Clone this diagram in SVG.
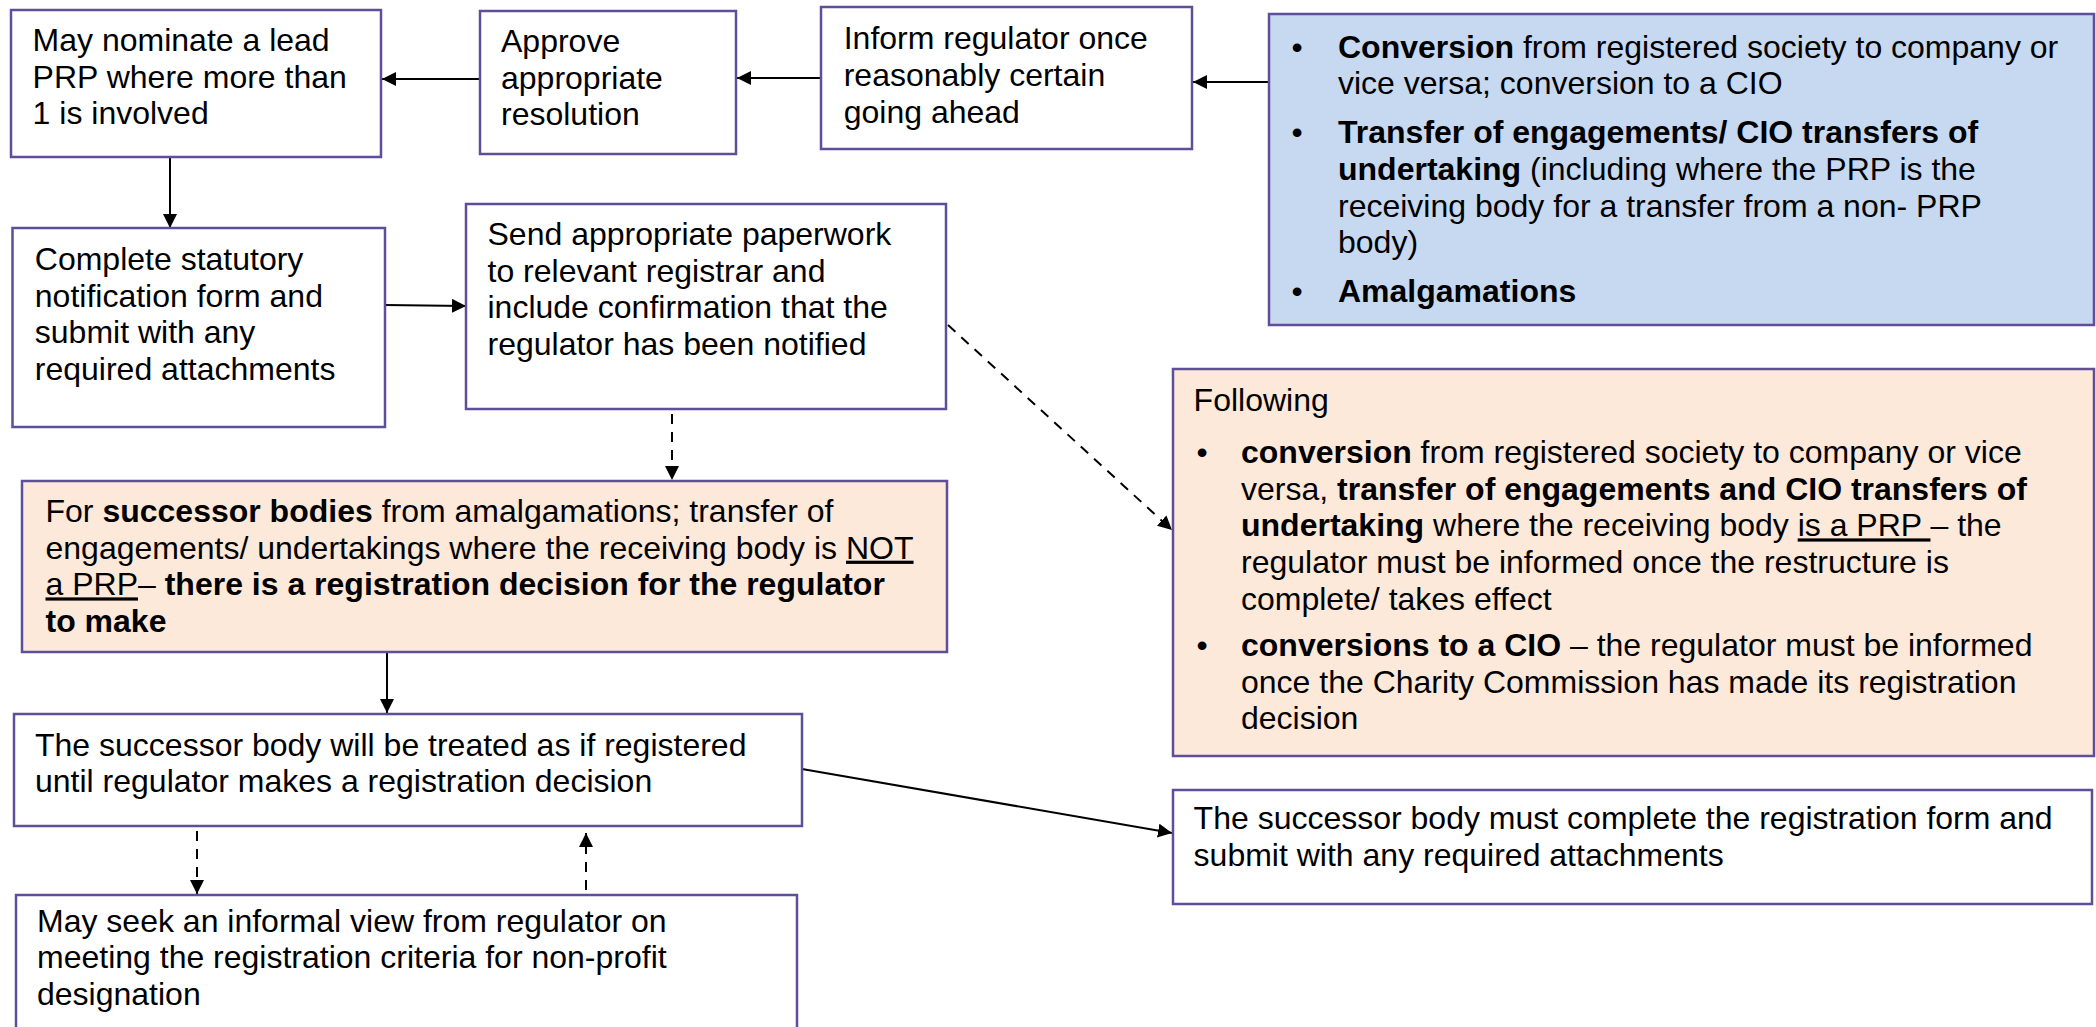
<svg xmlns="http://www.w3.org/2000/svg" width="2096" height="1027" viewBox="0 0 2096 1027">
<defs>
<style>
.t{font-family:"Liberation Sans",Arial,sans-serif;font-size:32px;fill:#000}
.b{font-weight:bold}
.u{text-decoration:underline}
.box{fill:#fff;stroke:#5F4E99;stroke-width:2.5}
.blue{fill:#C6D9F1}
.orange{fill:#FDE9D9}
.c{stroke:#000;stroke-width:2;fill:none;marker-end:url(#ah)}
.d{stroke-dasharray:10 8}
.bul{text-anchor:middle}
</style>
<marker id="ah" markerUnits="userSpaceOnUse" markerWidth="15" markerHeight="15" refX="14" refY="7" orient="auto">
<path d="M0,0 L14,7 L0,14 z" fill="#000"/>
</marker>
</defs>
<rect width="2096" height="1027" fill="#fff"/>

<g id="connectors">
<path class="c" d="M480,79 L382,79"/>
<path class="c" d="M821,78 L737,78"/>
<path class="c" d="M1269,82 L1193,82"/>
<path class="c" d="M170,157 L170,228"/>
<path class="c" d="M385,305 L466,306"/>
<path class="c d" d="M672,414 L672,480"/>
<path class="c d" d="M948,325 L1172,530"/>
<path class="c" d="M387,652 L387,713"/>
<path class="c" d="M802,769 L1172,833"/>
<path class="c d" d="M197,831 L197,894"/>
<path class="c d" d="M586,890 L586,833"/>
</g>

<g id="node-nominate">
<rect class="box" x="11" y="10" width="370" height="147"/>
<text class="t" x="32.6" y="51">May nominate a lead</text>
<text class="t" x="32.6" y="87.7">PRP where more than</text>
<text class="t" x="32.6" y="124.4">1 is involved</text>
</g>

<g id="node-approve">
<rect class="box" x="480" y="11" width="256" height="143"/>
<text class="t" x="501" y="52">Approve</text>
<text class="t" x="501" y="88.7">appropriate</text>
<text class="t" x="501" y="125.4">resolution</text>
</g>

<g id="node-inform">
<rect class="box" x="821" y="7" width="371" height="142"/>
<text class="t" x="843.7" y="49.3">Inform regulator once</text>
<text class="t" x="843.7" y="86">reasonably certain</text>
<text class="t" x="843.7" y="122.7">going ahead</text>
</g>

<g id="node-types">
<rect class="box blue" x="1269" y="14" width="825" height="311"/>
<text class="t bul" x="1297" y="57.7">•</text>
<text class="t" x="1338" y="57.7"><tspan class="b">Conversion</tspan> from registered society to company or</text>
<text class="t" x="1338" y="94.4">vice versa; conversion to a CIO</text>
<text class="t bul" x="1297" y="143.3">•</text>
<text class="t b" x="1338" y="143.3">Transfer of engagements/ CIO transfers of</text>
<text class="t" x="1338" y="180"><tspan class="b">undertaking</tspan> (including where the PRP is the</text>
<text class="t" x="1338" y="216.7">receiving body for a transfer from a non- PRP</text>
<text class="t" x="1338" y="253.4">body)</text>
<text class="t bul" x="1297" y="301.7">•</text>
<text class="t b" x="1338" y="301.7">Amalgamations</text>
</g>

<g id="node-notification">
<rect class="box" x="12.5" y="228" width="372.5" height="199"/>
<text class="t" x="34.8" y="270">Complete statutory</text>
<text class="t" x="34.8" y="306.7">notification form and</text>
<text class="t" x="34.8" y="343.4">submit with any</text>
<text class="t" x="34.8" y="380.1">required attachments</text>
</g>

<g id="node-paperwork">
<rect class="box" x="466" y="204" width="480" height="205"/>
<text class="t" x="487.5" y="245">Send appropriate paperwork</text>
<text class="t" x="487.5" y="281.7">to relevant registrar and</text>
<text class="t" x="487.5" y="318.4">include confirmation that the</text>
<text class="t" x="487.5" y="355.1">regulator has been notified</text>
</g>

<g id="node-successor-decision">
<rect class="box orange" x="22" y="481" width="925" height="171"/>
<text class="t" x="45.5" y="522">For <tspan class="b">successor bodies</tspan> from amalgamations; transfer of</text>
<text class="t" x="45.5" y="558.7">engagements/ undertakings where the receiving body is <tspan class="u">NOT</tspan></text>
<text class="t" x="45.5" y="595.4"><tspan class="u">a PRP</tspan>– <tspan class="b">there is a registration decision for the regulator</tspan></text>
<text class="t b" x="45.5" y="632.1">to make</text>
</g>

<g id="node-treated">
<rect class="box" x="14" y="714" width="788" height="112"/>
<text class="t" x="35" y="755.6">The successor body will be treated as if registered</text>
<text class="t" x="35" y="792.3">until regulator makes a registration decision</text>
</g>

<g id="node-informal-view">
<rect class="box" x="16" y="895" width="781" height="160"/>
<text class="t" x="37" y="931.7">May seek an informal view from regulator on</text>
<text class="t" x="37" y="968.4">meeting the registration criteria for non-profit</text>
<text class="t" x="37" y="1005.1">designation</text>
</g>

<g id="node-following">
<rect class="box orange" x="1173" y="369" width="921" height="387"/>
<text class="t" x="1193.6" y="411">Following</text>
<text class="t bul" x="1202" y="463">•</text>
<text class="t" x="1241" y="463"><tspan class="b">conversion</tspan> from registered society to company or vice</text>
<text class="t" x="1241" y="499.7">versa, <tspan class="b">transfer of engagements and CIO transfers of</tspan></text>
<text class="t" x="1241" y="536.4"><tspan class="b">undertaking</tspan> where the receiving body <tspan class="u">is a PRP </tspan>– the</text>
<text class="t" x="1241" y="573.1">regulator must be informed once the restructure is</text>
<text class="t" x="1241" y="609.8">complete/ takes effect</text>
<text class="t bul" x="1202" y="656">•</text>
<text class="t" x="1241" y="656"><tspan class="b">conversions to a CIO</tspan> – the regulator must be informed</text>
<text class="t" x="1241" y="692.7">once the Charity Commission has made its registration</text>
<text class="t" x="1241" y="729.4">decision</text>
</g>

<g id="node-registration-form">
<rect class="box" x="1173" y="790" width="919" height="114"/>
<text class="t" x="1193.6" y="829">The successor body must complete the registration form and</text>
<text class="t" x="1193.6" y="865.7">submit with any required attachments</text>
</g>
</svg>
